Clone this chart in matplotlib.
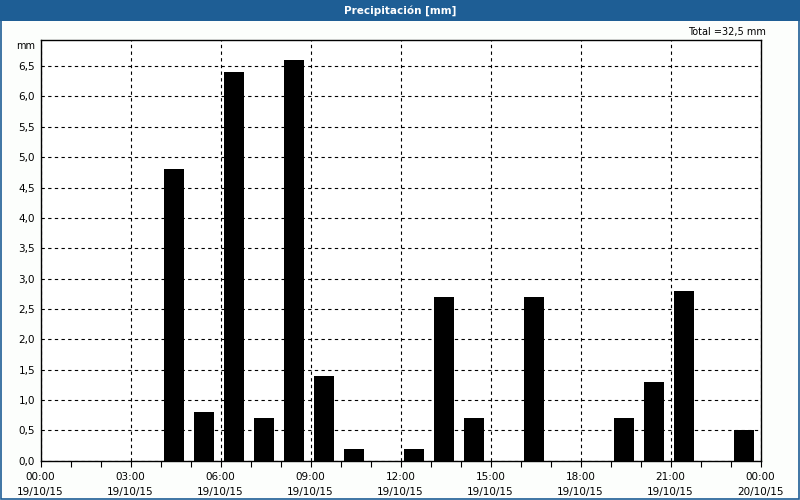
import matplotlib
matplotlib.use("Agg")
import numpy as np
import matplotlib.pyplot as plt
from matplotlib.patches import Rectangle

# hourly precipitation (hour of day the interval starts, mm)
horas = [4, 5, 6, 7, 8, 9, 10, 12, 13, 14, 16, 19, 20, 21, 23]
lluvia = [4.8, 0.8, 6.4, 0.7, 6.6, 1.4, 0.2, 0.2, 2.7, 0.7, 2.7, 0.7, 1.3, 2.8, 0.5]
xticks_lab = ["00:00\n19/10/15", "03:00\n19/10/15", "06:00\n19/10/15", "09:00\n19/10/15",
              "12:00\n19/10/15", "15:00\n19/10/15", "18:00\n19/10/15", "21:00\n19/10/15",
              "00:00\n20/10/15"]
titulo = "Precipitación [mm]"
total = sum(lluvia)

azul = "#1e5e95"
plt.rcParams['font.family'] = ['DejaVu Sans']

fig = plt.figure(figsize=(8, 5), dpi=100, facecolor="#fcfefc")
# title bar + window border
fig.patches.append(Rectangle((0, 1 - 20.5/500), 1, 20.5/500, transform=fig.transFigure,
                             facecolor=azul, edgecolor="none", zorder=0))
fig.patches.append(Rectangle((0.001, 0.002), 0.998, 0.99, transform=fig.transFigure,
                             facecolor="none", edgecolor=azul, linewidth=1.2, zorder=0))
fig.text(0.5, 1 - 10.5/500, titulo, color="white", fontsize=7.5, fontweight="bold",
         ha="center", va="center")

ax = fig.add_axes([40.5/800, 39.3/500, 720/800, 420.7/500])
ax.set_facecolor("white")
ax.bar(np.array(horas) + 0.1, lluvia, width=0.68, align="edge", color="black", zorder=3)

ax.set_xlim(0, 24)
ax.set_ylim(0, max(lluvia) * 1.05)
ax.set_xticks(np.arange(0, 25, 3))
ax.set_xticklabels(xticks_lab, fontsize=7.5, linespacing=1.7)
ax.set_xticks(np.arange(0, 25, 1), minor=True)
yt = np.arange(0, 7.0, 0.5)
ax.set_yticks(yt)
ax.set_yticklabels([("%.1f" % v).replace(".", ",") for v in yt], fontsize=7.5)
ax.tick_params(axis="x", which="both", direction="out", length=4, width=0.8, pad=4)
ax.tick_params(axis="y", length=0, pad=4)
ax.grid(True, which="major", color="black", linestyle=(0, (3, 3)), linewidth=0.8, zorder=1)
for s in ax.spines.values():
    s.set_linewidth(1.0)
    s.set_zorder(4)

fig.text(26/800, 1 - 46/500, "mm", fontsize=7, ha="center", va="center")
fig.text(766/800, 1 - 32/500, ("Total =%.1f mm" % total).replace(".", ","),
         fontsize=7, ha="right", va="center")

fig.savefig("out.png", dpi=100, facecolor=fig.get_facecolor())
